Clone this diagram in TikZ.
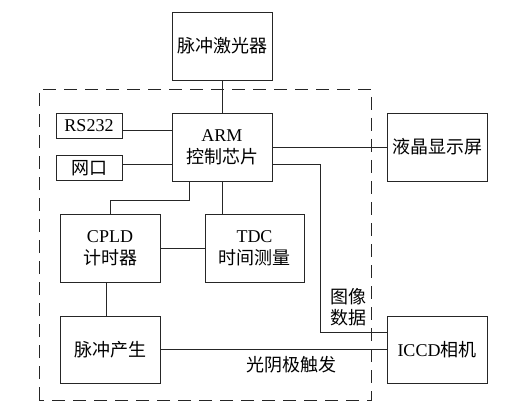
\documentclass[tikz,border=0pt]{standalone}
\usepackage{fontspec}
\setmainfont{Liberation Serif}
\newfontfamily\cjk{Noto Sans CJK SC}
\begin{document}
\begin{tikzpicture}[x=1pt,y=1pt,
		blk/.style={draw=black!85, line width=0.9pt, minimum width=100pt, minimum height=68pt, inner sep=0pt, align=center, font=\fontsize{18}{22}\selectfont},
		sml/.style={draw=black!85, line width=0.9pt, minimum width=66pt, minimum height=25pt, inner sep=0pt, font=\fontsize{18}{22}\selectfont},
		wire/.style={draw=black!85, line width=0.9pt},
		lbl/.style={align=center, inner sep=0pt, font=\fontsize{18}{21}\selectfont\cjk}]
		\useasboundingbox (0,0) rectangle (530,413);
		\draw[wire, dash pattern=on 13pt off 8pt] (39,13) rectangle (371,324);
		\node[blk] (laser) at (222,367) {\cjk 脉冲激光器};
		\node[blk] (arm) at (222,266) {ARM\\\cjk 控制芯片};
		\node[blk] (lcd) at (437,266) {\cjk 液晶显示屏};
		\node[sml] (rs) at (89,287) {RS232};
		\node[sml] (net) at (89,245) {\cjk 网口};
		\node[blk] (cpld) at (110,165) {CPLD\\\cjk 计时器};
		\node[blk, minimum width=99pt] (tdc) at (254.5,165) {TDC\\\cjk 时间测量};
		\node[blk, minimum height=67pt] (pulse) at (110,63.5) {\cjk 脉冲产生};
		\node[blk, minimum height=67pt] (iccd) at (437,63.5) {ICCD{\cjk 相机}};
		\node[lbl] (img) at (348,105.5) {图像\\数据};
		\node[lbl] (trig) at (291,48) {光阴极触发};
		\draw[wire] (laser) -- (arm);
		\draw[wire] ([yshift=-4pt]rs.east) -- ([yshift=-4pt]rs.east -| arm.west);
		\draw[wire] ([yshift=4pt]net.east) -- ([yshift=4pt]net.east -| arm.west);
		\draw[wire] (arm.east) -- (lcd.west);
		\draw[wire] ([yshift=-17pt]arm.east) -| ([xshift=-66pt,yshift=17pt]iccd.west) -- ([yshift=17pt]iccd.west);
		\draw[wire] ([xshift=-33pt]arm.south) -- ++(0,-19) -| (cpld.north);
		\draw[wire] (arm.south) -- (arm.south |- tdc.north);
		\draw[wire] (cpld) -- (tdc);
		\draw[wire] ([xshift=-4pt]cpld.south) -- ([xshift=-4pt]pulse.north);
		\draw[wire] (pulse) -- (iccd);
	\end{tikzpicture}
\end{document}
